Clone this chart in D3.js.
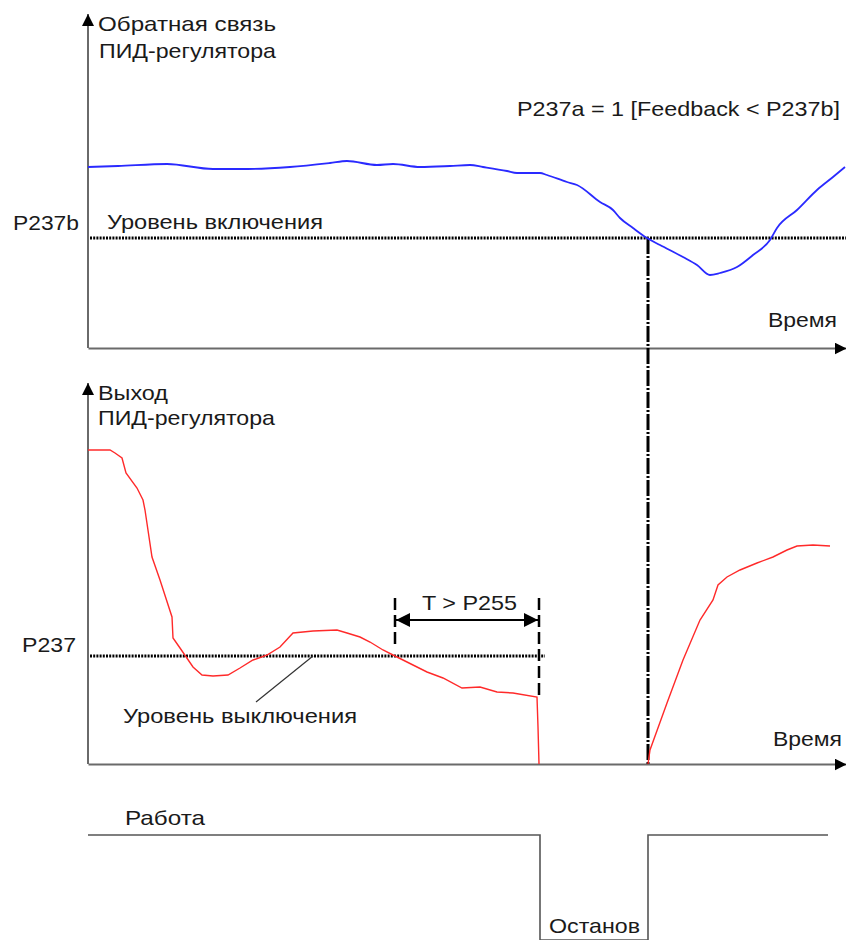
<!DOCTYPE html>
<html><head><meta charset="utf-8">
<script src="https://cdn.jsdelivr.net/npm/d3@7"></script>
<style>
html,body{margin:0;padding:0;background:#fff;}
svg text{font-family:"Liberation Sans",Arial,sans-serif;font-size:21px;fill:#1a1a1a;}
</style></head>
<body><svg id="c" width="846" height="940"></svg>
<script>
// ---- data (time units, value units) ----
const feedbackT = [0,30,79,125,160,202,242,259,289,305,332,362,382,395,419,429,452,459,479,489,512,525,532,545,559,572,595,609,622,632,649,665,682,689,709,729,745,757];
const feedbackV = [181,182,184,179,179,181,185,187,183,184,181,182,183,181,177,175,175,173,166,163,146,138,130,120,110,103,91,83,73,75,81,93,108,120,138,158,171,181];
const outputT1 = [0,22,27,34,38,49,55,57,64,72,84,85,92,105,114,125,140,152,165,179,192,205,225,249,259,272,282,295,305,325,339,355,374,392,409,425,449,450,451];
const outputV1 = [314,314,311,306,291,276,264,254,207,184,147,126,116,97,89,88,89,96,104,109,117,131,133,134,131,127,122,114,109,99,92,86,76,77,72,71,67,37,0];
const outputT2 = [560,562,579,595,612,625,630,639,652,669,685,699,709,725,742];
const outputV2 = [0,14,61,104,144,164,179,187,194,201,207,214,218,219,218];
const runT = [0,452,452,560,560,740];
const runState = [1,1,0,0,1,1];
const onLevel = 110;      // P237b
const offLevel = 108;     // P237
const stopTime = 560;     // feedback < P237b
const sleepStart = 307, sleepEnd = 451;
const labels = {
  fbAxis:["Обратная связь","ПИД-регулятора"], outAxis:["Выход","ПИД-регулятора"],
  time:"Время", p237b:"P237b", p237:"P237", on:"Уровень включения", off:"Уровень выключения",
  cond:"P237a = 1 [Feedback < P237b]", delay:"T > P255", run:"Работа", stop:"Останов"
};

const svg = d3.select("#c");
const x = d3.scaleLinear().domain([0,758]).range([88,846]);
const yTop = d3.scaleLinear().domain([0,334]).range([348,14]);
const yBot = d3.scaleLinear().domain([0,381]).range([764,383]);
const yRun = d3.scaleLinear().domain([0,1]).range([940,835]);

const defs = svg.append("defs");
defs.append("marker").attr("id","ah").attr("viewBox","0 0 10 10").attr("refX",10).attr("refY",5)
  .attr("markerWidth",6).attr("markerHeight",6).attr("orient","auto").attr("markerUnits","strokeWidth")
  .append("path").attr("d","M0,0L10,5L0,10Z").attr("fill","#000");
defs.append("marker").attr("id","ah2").attr("viewBox","0 0 10 10").attr("refX",10).attr("refY",5)
  .attr("markerWidth",7).attr("markerHeight",7).attr("orient","auto-start-reverse").attr("markerUnits","strokeWidth")
  .append("path").attr("d","M0,0L10,5L0,10Z").attr("fill","#000");

// axes via d3 axis generators (no ticks) + arrowheads
function drawAxes(yS){
  const gx = svg.append("g").attr("transform",`translate(0,${yS.range()[0]})`)
    .call(d3.axisBottom(x).tickValues([]).tickSizeOuter(0));
  gx.select(".domain").attr("stroke","#6a6a6a").attr("stroke-width",2).attr("marker-end","url(#ah)");
  const gy = svg.append("g").attr("transform",`translate(${x(0)},0)`)
    .call(d3.axisLeft(yS).tickValues([]).tickSizeOuter(0));
  gy.select(".domain").attr("stroke","#6a6a6a").attr("stroke-width",2)
    .attr("d",`M0,${yS.range()[0]}V${yS.range()[1]}`).attr("marker-end","url(#ah)");
}
drawAxes(yTop); drawAxes(yBot);

// threshold lines
svg.append("line").attr("x1",x(0)+2).attr("x2",x(758)).attr("y1",yTop(onLevel)).attr("y2",yTop(onLevel))
  .attr("stroke","#000").attr("stroke-width",3).attr("stroke-dasharray","2,1.2");
svg.append("line").attr("x1",x(0)+2).attr("x2",x(sleepEnd+6)).attr("y1",yBot(offLevel)).attr("y2",yBot(offLevel))
  .attr("stroke","#000").attr("stroke-width",3).attr("stroke-dasharray","2,1.2");

// vertical wake-up line
svg.append("line").attr("x1",x(stopTime)).attr("x2",x(stopTime)).attr("y1",yTop(onLevel)).attr("y2",yBot(0))
  .attr("stroke","#000").attr("stroke-width",3).attr("stroke-dasharray","16,2,2,2");

// curves
const lineTop = d3.line().x((d,i)=>x(feedbackT[i])).y(d=>yTop(d)).curve(d3.curveMonotoneX);
svg.append("path").attr("d",lineTop(feedbackV)).attr("fill","none").attr("stroke","#2a2aff").attr("stroke-width",1.8);
const lineO1 = d3.line().x((d,i)=>x(outputT1[i])).y(d=>yBot(d));
svg.append("path").attr("d",lineO1(outputV1)).attr("fill","none").attr("stroke","#ff2a2a").attr("stroke-width",1.4);
const lineO2 = d3.line().x((d,i)=>x(outputT2[i])).y(d=>yBot(d));
svg.append("path").attr("d",lineO2(outputV2)).attr("fill","none").attr("stroke","#ff2a2a").attr("stroke-width",1.4);

// sleep delay dashed markers and double arrow
svg.append("line").attr("x1",x(sleepStart)).attr("x2",x(sleepStart)).attr("y1",598).attr("y2",yBot(offLevel)-8)
  .attr("stroke","#000").attr("stroke-width",2.5).attr("stroke-dasharray","12,5");
svg.append("line").attr("x1",x(sleepEnd)).attr("x2",x(sleepEnd)).attr("y1",598).attr("y2",yBot(outputV1[36]))
  .attr("stroke","#000").attr("stroke-width",2.5).attr("stroke-dasharray","12,5");
svg.append("line").attr("x1",x(sleepStart)+1).attr("x2",x(sleepEnd)-1).attr("y1",620).attr("y2",620)
  .attr("stroke","#000").attr("stroke-width",2).attr("marker-start","url(#ah2)").attr("marker-end","url(#ah2)");

// leader line
svg.append("line").attr("x1",256).attr("y1",702).attr("x2",313).attr("y2",yBot(offLevel)).attr("stroke","#333").attr("stroke-width",1.2);

// run/stop status
const runLine = d3.line().x((d,i)=>x(runT[i])).y(d=>yRun(d));
svg.append("path").attr("d",runLine(runState)).attr("fill","none").attr("stroke","#555").attr("stroke-width",1.6);

// texts (x position, baseline, width)
function txt(s,xx,yy,w){
  svg.append("text").attr("x",xx).attr("y",yy).attr("textLength",w).attr("lengthAdjust","spacingAndGlyphs").text(s);
}
txt(labels.fbAxis[0],98,31,178); txt(labels.fbAxis[1],99,58,177);
txt(labels.cond,517,116,323);
txt(labels.p237b,13,230,66); txt(labels.on,107,229,216);
txt(labels.time,768,327,69);
txt(labels.outAxis[0],98,400,70); txt(labels.outAxis[1],98,425,177);
txt(labels.p237,22,652,54);
txt(labels.delay,422,610,95);
txt(labels.off,123,723,234);
txt(labels.time,773,746,69);
txt(labels.run,125,825,80);
txt(labels.stop,549,933,91);
</script></body></html>
